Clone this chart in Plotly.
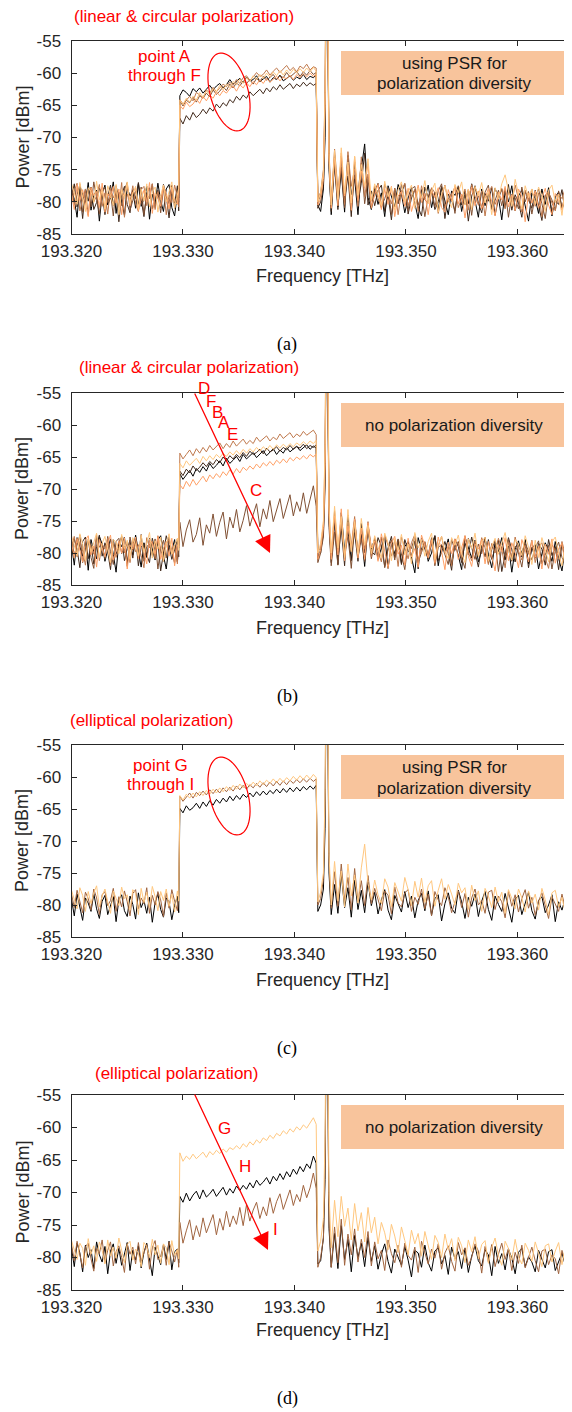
import numpy as np
import plotly.graph_objects as go

# the page body keeps an 8px margin, so the figure is 8px smaller than the window
PAGE_W, PAGE_H = 572, 1412
OFF = 8
W, H = PAGE_W - OFF, PAGE_H - OFF
SANS = "Liberation Sans, Arial, sans-serif"
SERIF = "Liberation Serif, Times New Roman, serif"

y_ticks = [-85, -80, -75, -70, -65, -60, -55]
y_tick_labels = ["-85", "-80", "-75", "-70", "-65", "-60", "-55"]

# sample points, GHz above 193.320 THz
freq_ghz = [
    0.0, 0.25, 0.5, 0.75, 1.0, 1.25, 1.5, 1.75, 2.0, 2.25,
    2.5, 2.75, 3.0, 3.25, 3.5, 3.75, 4.0, 4.25, 4.5, 4.75,
    5.0, 5.25, 5.5, 5.75, 6.0, 6.25, 6.5, 6.75, 7.0, 7.25,
    7.5, 7.75, 8.0, 8.25, 8.5, 8.75, 9.0, 9.25, 9.5, 9.62,
    9.72, 10.0, 10.3, 10.6, 10.9, 11.2, 11.5, 11.8, 12.1, 12.4,
    12.7, 13.0, 13.3, 13.6, 13.9, 14.2, 14.5, 14.8, 15.1, 15.4,
    15.7, 16.0, 16.3, 16.6, 16.9, 17.2, 17.5, 17.8, 18.1, 18.4,
    18.7, 19.0, 19.3, 19.6, 19.9, 20.2, 20.5, 20.8, 21.1, 21.4, 21.7, 21.95,
    22.1, 22.35, 22.6, 22.75, 22.85, 22.95, 23.1, 23.3,
    23.6, 23.9, 24.2, 24.5, 24.8, 25.1, 25.4, 25.7, 26.0, 26.3, 26.6, 26.9,
    27.2, 27.5, 27.8, 28.1, 28.4, 28.7, 29.0, 29.3, 29.6, 29.9, 30.2, 30.5,
    30.8, 31.1, 31.4, 31.7, 32.0, 32.3, 32.6, 32.9, 33.2, 33.5, 33.8, 34.1,
    34.4, 34.7, 35.0, 35.3, 35.6, 35.9, 36.2, 36.5, 36.8, 37.1, 37.4, 37.7,
    38.0, 38.3, 38.6, 38.9, 39.2, 39.5, 39.8, 40.1, 40.4, 40.7, 41.0, 41.3,
    41.6, 41.9, 42.2, 42.5, 42.8, 43.1, 43.4, 43.7, 44.0, 44.3, 44.6, 44.9,
]

# ---- (a) linear & circular, using PSR ----
a_A = [
    -78.1, -79.6, -82.4, -77.5, -78.9, -80.2, -77.0, -81.3, -79.0, -78.2,
    -83.0, -78.7, -77.4, -80.5, -79.3, -76.9, -81.8, -78.5, -80.0, -82.1,
    -77.8, -79.1, -78.3, -81.0, -77.2, -80.7, -79.5, -77.6, -82.7, -78.8,
    -80.3, -77.1, -79.8, -81.5, -78.0, -77.3, -80.9, -82.2, -78.6, -79.4,
    -63.5, -62.6, -63.0, -63.6, -62.4, -62.9, -62.3, -63.1, -62.5, -61.9,
    -62.6, -62.0, -61.6, -62.3, -61.8, -61.0, -61.7, -61.3, -60.8, -61.5,
    -60.6, -61.2, -61.0, -60.4, -61.3, -60.9, -60.5, -61.4, -60.7, -61.0,
    -60.3, -61.2, -60.8, -60.4, -61.1, -60.6, -60.9, -60.2, -61.0, -60.5, -60.7, -60.3,
    -80.5, -81.5, -78.0, -70.0, -40.0, -40.0, -74.0, -82.0,
    -73.5, -80.8, -75.2, -81.6, -72.8, -78.9, -76.4, -82.0, -74.9, -71.0, -79.3, -81.2,
    -77.9, -80.4, -78.6, -82.3, -77.5, -79.1, -80.8, -77.3, -78.8, -81.7, -79.4, -77.8,
    -80.2, -82.6, -78.1, -79.6, -77.4, -80.9, -78.5, -81.3, -77.7, -79.8, -82.0, -78.3,
    -79.0, -77.6, -81.5, -78.9, -80.3, -77.2, -79.7, -82.4, -78.0, -80.6, -78.7, -81.1,
    -77.9, -79.3, -82.8, -78.4, -80.0, -77.5, -81.4, -79.1, -78.2, -80.7, -83.0, -78.6,
    -79.5, -81.8, -78.0, -80.4, -77.8, -82.2, -79.2, -78.5, -81.0, -79.8, -82.5, -78.9,
]
a_B = [
    -79.4, -77.2, -80.8, -78.5, -82.6, -78.0, -79.9, -77.7, -81.2, -80.1,
    -77.9, -78.8, -82.0, -79.2, -77.4, -80.6, -78.3, -83.1, -78.9, -77.6,
    -80.4, -81.7, -78.1, -79.5, -77.0, -80.0, -82.3, -78.6, -77.8, -81.1,
    -79.7, -78.2, -80.9, -77.3, -79.0, -82.5, -78.4, -80.2, -77.5, -81.4,
    -67.0, -67.9, -66.6, -67.3, -66.1, -66.9, -66.4, -65.6, -66.3, -65.4,
    -65.9, -64.8, -65.4, -64.6, -65.1, -64.1, -64.6, -63.6, -64.2, -63.4,
    -63.9, -62.9, -63.5, -63.0, -62.5, -63.2, -62.3, -62.9, -62.1, -62.6,
    -61.8, -62.5, -62.0, -61.6, -62.4, -61.7, -62.1, -61.4, -62.0, -61.5, -61.9, -61.6,
    -81.0, -80.0, -77.5, -68.0, -42.0, -42.0, -75.0, -81.5,
    -74.3, -81.2, -72.9, -79.6, -76.0, -82.3, -73.8, -80.1, -77.1, -72.4, -80.5, -78.3,
    -80.6, -78.2, -77.4, -81.5, -79.0, -82.8, -77.9, -80.3, -78.6, -77.2, -81.9, -79.4,
    -78.1, -80.8, -82.2, -77.7, -79.3, -78.5, -81.2, -80.0, -77.6, -82.6, -78.8, -79.7,
    -81.4, -77.9, -80.5, -78.3, -83.0, -79.1, -77.5, -80.2, -81.7, -78.7, -79.9, -77.8,
    -82.1, -79.5, -78.0, -80.9, -77.3, -81.3, -78.9, -80.1, -82.4, -78.4, -79.6, -81.0,
    -78.2, -80.7, -82.9, -79.0, -78.6, -81.6, -79.8, -80.4, -78.1, -82.0, -79.3, -81.5,
]
a_C = [
    -77.6, -80.5, -78.9, -77.3, -81.6, -79.2, -78.0, -80.8, -76.9, -79.7,
    -81.9, -78.4, -77.8, -80.1, -78.6, -82.2, -77.5, -79.3, -80.6, -78.1,
    -77.0, -81.3, -79.8, -78.3, -80.4, -77.7, -82.0, -78.8, -79.5, -77.2,
    -80.9, -78.5, -81.7, -77.9, -79.1, -80.3, -77.4, -81.0, -78.7, -80.0,
    -64.3, -65.1, -64.2, -64.6, -63.7, -64.5, -63.5, -63.9, -63.1, -63.7,
    -62.6, -63.3, -62.8, -62.1, -62.7, -61.7, -62.3, -61.5, -62.0, -61.2,
    -61.6, -61.0, -61.7, -60.8, -61.3, -60.5, -61.1, -60.6, -60.2, -61.0,
    -60.4, -60.7, -59.9, -60.6, -60.1, -59.7, -60.5, -59.8, -60.3, -59.6, -60.2, -59.9,
    -80.0, -79.0, -76.0, -64.0, -39.0, -39.0, -73.0, -80.5,
    -72.7, -79.8, -74.6, -80.9, -73.1, -81.4, -75.8, -78.6, -74.0, -80.3, -76.5, -81.1,
    -78.4, -77.1, -80.7, -79.5, -77.8, -82.0, -78.6, -80.2, -77.3, -79.9, -81.4, -78.0,
    -77.6, -80.5, -78.9, -82.3, -79.1, -77.9, -80.8, -78.3, -77.2, -81.0, -79.6, -78.7,
    -81.8, -77.5, -79.3, -80.4, -78.1, -82.1, -77.8, -79.0, -80.9, -78.5, -77.4, -81.2,
    -79.8, -78.2, -80.6, -77.9, -82.4, -78.8, -79.4, -81.1, -77.7, -80.0, -78.4, -81.9,
    -79.2, -78.0, -80.3, -82.6, -78.6, -79.7, -81.3, -78.3, -80.8, -79.1, -81.7, -79.5,
]
a_D = [
    -80.2, -78.3, -77.1, -81.4, -79.6, -78.0, -82.1, -77.7, -80.0, -79.1,
    -77.3, -80.7, -78.6, -81.9, -77.9, -79.4, -78.2, -80.9, -77.0, -82.4,
    -78.8, -79.9, -77.5, -80.3, -81.5, -78.1, -77.6, -80.6, -79.0, -77.2,
    -81.2, -78.4, -79.7, -77.8, -82.0, -78.9, -80.1, -77.4, -79.3, -80.8,
    -64.1, -64.8, -64.2, -63.6, -64.3, -63.0, -63.4, -63.9, -62.6, -63.1,
    -62.2, -62.9, -62.3, -61.7, -62.1, -61.4, -61.9, -61.0, -61.6, -60.7,
    -60.4, -61.1, -60.6, -59.9, -60.5, -60.2, -59.5, -60.3, -59.7, -59.2,
    -59.9, -59.4, -58.8, -59.6, -59.1, -59.8, -58.9, -59.3, -58.6, -59.5, -59.0, -59.2,
    -79.5, -78.5, -75.0, -62.0, -38.0, -38.0, -72.0, -80.0,
    -71.8, -78.2, -73.4, -80.4, -72.2, -77.6, -74.9, -80.7, -73.0, -79.2, -75.7, -79.9,
    -77.6, -79.4, -81.0, -77.2, -78.8, -80.3, -77.9, -82.0, -78.4, -77.1, -80.6, -79.0,
    -78.1, -81.5, -77.5, -79.7, -80.2, -77.8, -78.6, -81.8, -79.3, -77.4, -80.0, -78.9,
    -77.7, -80.9, -79.5, -78.0, -81.3, -77.3, -79.1, -80.5, -78.3, -82.2, -78.7, -77.6,
    -80.4, -79.2, -77.9, -81.1, -78.5, -80.1, -77.4, -79.6, -81.6, -78.2, -79.9, -78.0,
    -80.7, -78.6, -82.3, -79.0, -78.4, -80.2, -81.4, -78.8, -79.5, -77.9, -81.0, -79.3,
]
a_E = [
    -78.9, -81.2, -77.4, -79.8, -78.1, -80.5, -82.3, -77.8, -79.0, -78.4,
    -80.9, -77.1, -81.6, -78.7, -79.4, -77.6, -80.2, -78.0, -82.0, -79.1,
    -77.3, -80.6, -78.5, -77.9, -81.4, -79.6, -78.2, -80.0, -77.0, -81.8,
    -78.6, -79.3, -80.7, -77.5, -78.8, -81.1, -77.7, -79.9, -80.4, -78.3,
    -65.0, -65.6, -64.5, -65.2, -64.8, -64.0, -64.7, -63.6, -64.3, -63.4,
    -63.9, -62.9, -63.5, -62.7, -63.1, -62.4, -62.0, -62.8, -61.8, -62.3,
    -61.5, -62.1, -61.3, -61.8, -61.0, -61.6, -60.8, -61.4, -61.0, -60.5,
    -61.2, -60.6, -60.9, -60.3, -61.0, -60.2, -60.7, -60.1, -60.6, -60.0, -60.5, -60.2,
    -80.5, -79.5, -76.5, -65.0, -39.0, -39.0, -73.5, -81.0,
    -73.2, -80.6, -72.4, -79.1, -74.3, -81.3, -73.0, -79.8, -75.2, -77.9, -74.1, -80.9,
    -78.9, -77.3, -81.2, -78.0, -80.4, -77.6, -82.3, -79.1, -78.4, -80.7, -77.9, -81.5,
    -79.6, -77.4, -80.1, -78.7, -82.0, -78.2, -79.3, -77.8, -80.9, -81.6, -78.1, -79.9,
    -77.5, -80.3, -78.8, -82.5, -79.0, -77.7, -80.6, -78.3, -81.1, -79.4, -77.9, -80.0,
    -82.2, -78.5, -79.7, -77.6, -80.8, -78.9, -81.4, -78.0, -79.2, -83.1, -78.6, -80.2,
    -78.3, -81.0, -79.5, -77.9, -80.5, -82.0, -78.7, -79.8, -81.3, -78.4, -80.6, -79.1,
]
a_F = [
    -77.2, -78.6, -80.4, -77.0, -79.3, -81.5, -77.8, -78.4, -80.1, -76.8,
    -79.7, -78.2, -81.1, -77.5, -78.9, -80.6, -77.3, -82.0, -78.1, -79.5,
    -76.9, -80.3, -78.7, -77.6, -81.2, -78.0, -79.9, -77.2, -80.8, -78.5,
    -77.7, -81.6, -79.0, -77.4, -80.0, -78.3, -76.9, -81.0, -78.8, -77.9,
    -64.2, -64.9, -63.9, -64.5, -63.6, -64.2, -63.0, -63.7, -62.8, -63.3,
    -62.4, -62.9, -61.9, -62.6, -61.7, -62.2, -61.3, -61.8, -60.9, -61.6,
    -60.7, -61.3, -60.4, -61.0, -60.2, -60.8, -60.0, -60.6, -59.8, -60.4,
    -59.6, -60.3, -59.5, -60.1, -59.4, -60.0, -59.3, -59.9, -59.2, -59.8, -59.1, -59.7,
    -80.0, -78.5, -75.5, -63.0, -37.0, -37.0, -72.5, -80.5,
    -72.0, -79.6, -71.6, -78.7, -73.8, -80.2, -72.9, -79.0, -74.2, -77.6, -73.3, -79.8,
    -77.2, -78.9, -80.6, -76.8, -79.2, -77.7, -81.3, -78.1, -76.9, -80.0, -78.5, -77.4,
    -81.0, -77.9, -79.4, -76.7, -80.3, -78.3, -77.1, -81.6, -78.7, -77.5, -79.8, -80.9,
    -77.3, -78.6, -76.9, -80.5, -78.0, -81.2, -77.6, -79.1, -77.0, -80.2, -78.4, -82.0,
    -77.8, -79.6, -77.2, -75.8, -78.1, -80.7, -76.5, -78.9, -81.1, -77.5, -79.3, -78.0,
    -80.4, -77.7, -79.0, -81.5, -78.2, -77.4, -80.1, -78.8, -82.1, -77.9, -79.5, -80.6,
]

# ---- (b) linear & circular, no polarization diversity ----
b_A = [
    -78.7, -81.9, -77.6, -79.2, -80.5, -78.1, -82.7, -77.9, -79.8, -80.9,
    -77.4, -78.6, -81.3, -79.5, -77.8, -80.2, -83.0, -78.3, -79.0, -77.5,
    -81.6, -78.9, -80.3, -77.2, -79.7, -82.2, -78.4, -80.7, -77.7, -79.3,
    -81.1, -78.0, -77.3, -80.4, -82.5, -78.8, -79.6, -77.9, -81.4, -78.5,
    -67.6, -68.5, -67.8, -67.1, -68.0, -66.8, -67.4, -66.5, -67.2, -66.0,
    -66.8, -66.3, -65.6, -66.4, -65.2, -66.0, -65.5, -64.9, -65.7, -64.6,
    -65.3, -64.8, -64.3, -65.1, -64.5, -64.0, -64.8, -64.2, -63.7, -64.6,
    -63.9, -64.4, -63.5, -64.2, -63.7, -63.3, -64.0, -63.5, -63.1, -63.8, -63.3, -63.6,
    -81.0, -79.5, -77.0, -68.0, -42.0, -42.0, -74.5, -81.0,
    -75.3, -81.8, -73.7, -79.6, -76.4, -81.2, -74.8, -80.3, -77.0, -82.1, -75.6, -79.4,
    -77.8, -81.0, -79.3, -77.4, -82.4, -78.6, -80.1, -77.9, -81.6, -79.0, -78.2, -80.7,
    -83.1, -77.6, -79.5, -78.4, -81.3, -80.0, -77.3, -82.0, -78.8, -79.7, -77.8, -81.9,
    -78.5, -80.4, -82.6, -77.5, -79.1, -80.8, -78.0, -81.4, -79.6, -77.7, -80.2, -82.3,
    -78.3, -79.8, -77.6, -81.1, -78.9, -83.0, -79.4, -78.1, -80.6, -77.9, -81.7, -79.2,
    -78.7, -82.5, -80.1, -78.4, -79.6, -81.3, -78.2, -80.9, -82.8, -79.0, -78.5, -81.5,
]
b_B = [
    -80.1, -77.8, -79.4, -82.3, -78.2, -77.5, -80.9, -78.7, -81.7, -79.0,
    -77.2, -80.5, -78.4, -79.8, -82.6, -77.9, -80.2, -78.6, -77.4, -81.2,
    -79.3, -78.0, -80.8, -77.6, -82.0, -79.1, -78.5, -80.3, -81.5, -77.7,
    -79.6, -78.3, -82.8, -80.0, -77.3, -78.9, -81.0, -79.5, -77.8, -80.6,
    -67.2, -67.9, -66.9, -67.5, -66.4, -67.1, -66.6, -65.9, -66.5, -65.7,
    -66.2, -65.4, -65.9, -65.0, -65.6, -64.8, -65.3, -64.6, -65.1, -64.3,
    -64.9, -64.1, -64.6, -64.3, -63.8, -64.5, -63.6, -64.2, -63.9, -63.4,
    -64.1, -63.5, -63.9, -63.2, -63.8, -63.4, -63.6, -63.0, -63.7, -63.2, -63.5, -63.1,
    -80.5, -80.0, -76.5, -67.0, -41.0, -41.0, -75.0, -81.5,
    -74.6, -80.9, -76.2, -82.0, -74.1, -79.8, -76.8, -81.3, -75.4, -80.0, -76.3, -79.7,
    -80.3, -77.6, -78.9, -82.1, -79.2, -77.4, -80.7, -78.3, -81.8, -77.9, -79.6, -80.5,
    -78.1, -82.5, -77.7, -79.4, -80.9, -78.6, -77.3, -81.2, -79.9, -78.2, -80.1, -82.7,
    -77.8, -79.0, -81.5, -78.4, -80.3, -77.5, -79.7, -82.2, -78.8, -80.6, -77.9, -81.0,
    -79.3, -78.0, -82.9, -80.2, -77.6, -79.5, -81.4, -78.7, -80.0, -78.3, -82.3, -79.1,
    -80.8, -78.5, -79.4, -81.9, -77.9, -80.4, -79.0, -82.6, -78.6, -81.1, -79.8, -80.2,
]
b_C = [
    -77.9, -80.3, -78.8, -77.2, -81.5, -79.4, -78.1, -80.7, -82.4, -77.6,
    -79.1, -78.5, -80.9, -77.4, -79.8, -81.8, -78.2, -77.7, -80.1, -78.9,
    -82.1, -77.5, -79.6, -78.3, -80.6, -77.1, -81.3, -79.0, -78.6, -80.4,
    -77.8, -82.5, -79.3, -78.0, -80.8, -77.5, -79.9, -81.6, -78.4, -79.2,
    -75.2, -79.0, -76.4, -74.8, -78.3, -77.1, -74.5, -78.8, -75.6, -76.9,
    -73.9, -77.4, -75.2, -73.6, -77.8, -74.4, -76.1, -73.2, -76.7, -74.9,
    -72.6, -75.8, -74.0, -72.3, -75.9, -73.1, -74.7, -71.8, -75.1, -73.4,
    -71.5, -74.6, -72.8, -70.9, -74.2, -72.0, -73.5, -70.6, -73.8, -71.6, -69.5, -72.7,
    -81.5, -80.0, -77.5, -70.0, -44.0, -44.0, -76.0, -82.0,
    -76.7, -81.9, -75.3, -80.2, -77.4, -82.4, -75.9, -80.6, -77.8, -81.3, -76.2, -80.9,
    -78.2, -80.9, -77.5, -82.3, -79.4, -78.0, -81.1, -77.8, -80.2, -82.6, -78.5, -79.3,
    -77.4, -81.5, -79.9, -78.3, -80.6, -77.6, -82.0, -79.1, -78.7, -80.4, -81.8, -77.9,
    -79.6, -78.2, -80.8, -82.4, -77.7, -79.2, -81.0, -78.6, -80.1, -77.5, -81.6, -79.5,
    -78.0, -82.9, -79.0, -80.5, -77.8, -81.3, -78.9, -80.0, -82.2, -78.4, -79.7, -81.1,
    -79.2, -78.1, -81.7, -80.3, -78.8, -82.5, -79.6, -78.3, -80.7, -81.9, -79.0, -80.4,
]
b_D = [
    -79.0, -77.4, -80.6, -78.2, -79.7, -81.9, -77.8, -78.9, -80.2, -77.1,
    -81.2, -78.6, -79.4, -77.7, -82.0, -78.4, -80.7, -79.1, -77.5, -80.0,
    -78.3, -81.5, -77.9, -79.8, -78.7, -80.4, -82.3, -77.6, -79.2, -78.1,
    -80.9, -77.3, -79.5, -81.3, -78.5, -77.9, -80.1, -78.8, -81.7, -77.6,
    -64.4, -65.3, -64.6, -63.9, -64.8, -63.7, -64.4, -63.5, -64.2, -63.2,
    -63.9, -63.4, -62.8, -63.7, -62.9, -63.5, -62.5, -63.3, -62.7, -62.2,
    -63.0, -62.4, -62.9, -61.9, -62.6, -62.1, -61.7, -62.5, -61.9, -62.3,
    -61.4, -62.1, -61.7, -61.2, -62.0, -61.4, -61.8, -61.0, -61.6, -61.2, -60.8, -61.5,
    -80.0, -79.0, -75.5, -64.0, -38.0, -38.0, -73.0, -80.5,
    -73.4, -79.7, -74.9, -80.8, -75.2, -78.9, -74.3, -80.2, -76.3, -79.3, -75.1, -80.6,
    -77.6, -79.8, -81.4, -77.2, -78.7, -80.5, -78.0, -82.1, -77.5, -79.3, -80.9, -78.4,
    -77.1, -81.0, -79.5, -78.2, -80.3, -77.8, -81.7, -78.9, -77.4, -80.1, -79.0, -82.0,
    -77.9, -78.6, -80.7, -77.3, -79.9, -81.2, -78.1, -80.4, -77.6, -79.2, -81.8, -78.5,
    -80.0, -77.7, -79.4, -82.3, -78.3, -80.6, -77.5, -79.7, -81.1, -78.8, -80.2, -78.0,
    -81.5, -79.1, -78.4, -80.8, -82.4, -78.7, -79.6, -81.0, -78.2, -80.3, -79.4, -81.3,
]
b_E = [
    -78.4, -80.8, -77.7, -79.5, -81.4, -78.0, -77.3, -80.3, -78.9, -82.2,
    -77.9, -79.2, -80.6, -78.5, -77.2, -81.1, -79.7, -78.1, -80.0, -77.6,
    -82.5, -78.8, -79.4, -77.5, -80.9, -78.3, -79.9, -81.7, -77.8, -78.6,
    -80.2, -77.4, -81.0, -79.3, -78.2, -80.5, -77.7, -82.0, -78.7, -79.1,
    -69.3, -70.0, -68.8, -69.6, -68.5, -69.4, -68.7, -68.0, -68.9, -67.8,
    -68.4, -67.6, -68.2, -67.3, -67.9, -67.0, -67.7, -66.8, -67.5, -66.6,
    -67.1, -66.4, -66.9, -66.1, -66.7, -65.9, -66.4, -65.7, -66.3, -65.5,
    -66.0, -65.3, -65.9, -65.1, -65.6, -65.0, -65.4, -64.8, -65.3, -64.6, -65.0, -64.5,
    -81.0, -79.5, -76.0, -66.0, -40.0, -40.0, -74.0, -81.0,
    -74.2, -80.3, -73.1, -81.2, -75.8, -79.6, -74.7, -80.8, -76.1, -81.0, -75.3, -79.2,
    -78.1, -81.3, -77.0, -79.6, -82.4, -78.5, -77.4, -80.2, -78.8, -81.9, -77.7, -80.6,
    -79.3, -82.2, -77.2, -78.9, -80.8, -78.0, -81.5, -77.5, -79.7, -82.6, -78.3, -80.1,
    -77.8, -81.0, -79.2, -77.3, -80.5, -82.1, -78.6, -79.4, -77.9, -81.7, -78.2, -80.3,
    -82.8, -78.7, -79.8, -77.6, -81.2, -78.4, -80.0, -82.3, -77.9, -79.5, -81.4, -78.1,
    -80.7, -79.0, -82.5, -78.6, -80.2, -77.8, -81.6, -79.3, -78.5, -82.0, -79.7, -80.9,
]
b_F = [
    -77.3, -79.1, -80.4, -77.0, -78.6, -81.2, -77.8, -79.8, -78.2, -76.9,
    -80.7, -78.5, -77.4, -79.6, -81.5, -77.9, -78.3, -80.1, -77.1, -79.3,
    -78.0, -81.0, -77.6, -78.8, -80.5, -77.2, -79.9, -78.4, -76.8, -80.8,
    -78.1, -79.4, -77.5, -81.3, -78.7, -77.0, -80.2, -78.9, -77.7, -79.6,
    -66.0, -66.7, -65.6, -66.3, -65.8, -65.2, -66.0, -64.9, -65.6, -64.8,
    -65.4, -64.6, -65.1, -64.4, -64.9, -64.2, -64.7, -64.0, -64.6, -63.8,
    -64.4, -63.7, -64.2, -63.5, -64.1, -63.4, -63.9, -63.2, -63.8, -63.1,
    -63.6, -63.0, -63.5, -62.9, -63.4, -62.8, -63.2, -62.6, -63.1, -62.5, -62.9, -62.4,
    -80.0, -78.5, -75.0, -63.0, -37.0, -37.0, -72.5, -80.0,
    -72.7, -79.2, -74.3, -80.7, -73.2, -79.8, -75.1, -80.2, -74.6, -78.8, -75.7, -80.1,
    -77.3, -79.0, -80.8, -76.9, -78.4, -81.2, -77.7, -79.6, -77.1, -80.3, -78.6, -81.7,
    -76.8, -79.2, -77.9, -80.5, -78.2, -76.9, -81.0, -78.7, -77.4, -79.8, -80.9, -77.6,
    -78.8, -77.2, -80.1, -81.5, -77.8, -79.3, -76.9, -80.6, -78.3, -77.5, -81.3, -79.0,
    -77.7, -80.2, -78.5, -76.8, -79.6, -81.1, -77.9, -78.6, -80.4, -77.3, -79.1, -81.8,
    -78.0, -80.7, -77.6, -79.4, -81.4, -78.3, -77.5, -80.0, -82.0, -78.8, -79.7, -80.5,
]

# ---- (c) elliptical, using PSR ----
c_H = [
    -79.1, -81.7, -78.3, -80.2, -82.4, -78.9, -79.7, -81.0, -78.2, -80.6,
    -82.1, -79.4, -78.5, -81.5, -80.0, -78.7, -82.6, -79.2, -78.4, -80.9,
    -81.8, -78.6, -79.9, -82.2, -78.1, -80.4, -79.3, -81.3, -78.8, -82.7,
    -79.6, -78.3, -80.7, -81.9, -78.9, -79.5, -82.3, -80.1, -78.6, -81.2,
    -64.9, -65.6, -64.5, -65.2, -64.8, -64.1, -64.9, -63.9, -64.6, -63.7,
    -64.4, -63.5, -64.1, -63.3, -63.9, -63.0, -63.7, -62.9, -63.5, -62.7,
    -63.2, -62.5, -63.1, -62.3, -62.9, -62.2, -62.8, -62.1, -62.6, -61.9,
    -62.5, -61.8, -62.4, -61.7, -62.3, -61.6, -62.2, -61.5, -62.0, -61.4, -61.9, -61.3,
    -81.0, -80.0, -77.5, -68.0, -42.0, -42.0, -75.0, -81.5,
    -76.8, -81.3, -75.2, -80.4, -77.3, -81.9, -76.1, -80.7, -77.7, -81.2, -76.4, -80.1,
    -78.0, -81.4, -79.2, -77.6, -80.8, -82.3, -78.5, -79.7, -81.1, -77.9, -80.4, -78.6,
    -82.0, -79.3, -78.2, -80.9, -77.8, -81.6, -79.0, -78.4, -82.5, -79.8, -78.1, -80.5,
    -81.3, -77.7, -79.5, -82.1, -78.8, -80.2, -78.3, -81.8, -79.4, -77.9, -80.7, -82.4,
    -78.6, -79.9, -81.0, -78.2, -80.3, -82.7, -79.1, -78.5, -81.5, -79.6, -78.0, -80.9,
    -82.2, -79.3, -78.7, -81.2, -80.0, -78.4, -82.6, -79.5, -80.8, -78.9, -81.7, -79.7,
]
c_I = [
    -78.3, -80.4, -77.7, -79.6, -81.2, -78.0, -79.0, -80.8, -77.5, -78.9,
    -81.5, -78.4, -77.9, -80.1, -79.3, -77.4, -81.0, -78.7, -80.3, -77.8,
    -79.5, -81.7, -78.2, -77.6, -80.6, -78.9, -79.8, -77.3, -81.3, -78.5,
    -80.0, -77.9, -79.2, -81.8, -78.1, -80.5, -77.6, -79.4, -80.9, -78.3,
    -63.0, -63.8, -63.1, -62.5, -63.3, -62.4, -62.9, -62.2, -62.8, -62.0,
    -62.6, -61.9, -62.5, -61.7, -62.3, -61.6, -62.2, -61.4, -62.0, -61.3,
    -61.9, -61.2, -61.7, -61.0, -61.6, -60.9, -61.5, -60.8, -61.4, -60.7,
    -61.3, -60.6, -61.2, -60.5, -61.0, -60.4, -60.9, -60.3, -60.8, -60.2, -60.7, -60.3,
    -80.0, -79.0, -76.0, -64.0, -39.0, -39.0, -73.5, -80.5,
    -74.8, -80.2, -73.6, -79.3, -75.7, -80.8, -74.3, -79.6, -76.2, -80.1, -75.4, -79.8,
    -77.4, -79.1, -80.9, -77.8, -78.5, -81.4, -77.2, -79.7, -80.3, -78.1, -77.6, -81.0,
    -78.8, -79.9, -77.5, -80.6, -78.3, -81.7, -77.9, -79.2, -80.1, -77.3, -78.7, -81.2,
    -79.6, -77.8, -80.4, -78.2, -81.9, -78.9, -77.5, -80.0, -79.3, -81.3, -78.0, -77.7,
    -80.7, -78.6, -79.5, -82.0, -77.9, -80.2, -78.4, -81.1, -79.0, -77.6, -80.5, -78.8,
    -81.6, -79.4, -78.1, -80.3, -82.1, -78.7, -79.8, -81.0, -78.3, -80.6, -79.1, -81.4,
]
c_G = [
    -77.7, -79.2, -80.6, -77.3, -78.5, -81.0, -77.9, -79.8, -78.1, -77.0,
    -80.3, -78.6, -77.5, -79.5, -81.3, -77.8, -78.9, -80.1, -77.2, -79.0,
    -78.4, -80.8, -77.6, -78.2, -81.5, -77.4, -79.6, -78.0, -80.4, -77.1,
    -78.7, -80.9, -77.9, -79.3, -77.5, -80.2, -78.3, -81.1, -77.8, -79.4,
    -62.9, -63.6, -62.7, -63.3, -62.5, -63.1, -62.3, -62.9, -62.1, -62.7,
    -61.9, -62.5, -61.7, -62.3, -61.5, -62.1, -61.3, -61.9, -61.1, -61.7,
    -61.0, -61.5, -60.8, -61.4, -60.6, -61.2, -60.5, -61.0, -60.3, -60.9,
    -60.2, -60.8, -60.1, -60.6, -59.9, -60.5, -59.8, -60.4, -59.7, -60.3, -59.6, -60.1,
    -79.5, -78.0, -75.0, -62.0, -37.0, -37.0, -72.0, -80.0,
    -73.2, -79.4, -74.7, -80.3, -73.6, -78.6, -75.3, -79.7, -74.2, -70.5, -76.6, -79.2,
    -76.1, -78.4, -79.8, -75.9, -77.2, -80.3, -76.5, -78.0, -79.4, -75.7, -77.6, -80.1,
    -76.3, -78.8, -75.8, -79.6, -77.0, -76.2, -80.2, -77.7, -75.9, -79.1, -76.8, -78.3,
    -80.0, -76.6, -78.1, -77.3, -80.7, -76.9, -79.3, -77.8, -81.0, -77.4, -78.6, -80.4,
    -77.2, -79.5, -78.0, -81.3, -77.6, -79.0, -80.6, -77.5, -78.9, -81.1, -77.8, -79.7,
    -78.3, -80.8, -77.4, -79.2, -81.5, -78.1, -77.7, -80.3, -78.8, -81.2, -78.0, -79.9,
]

# ---- (d) elliptical, no polarization diversity ----
d_H = [
    -78.5, -81.4, -77.8, -79.3, -82.2, -78.1, -80.0, -78.8, -81.7, -77.6,
    -79.6, -80.7, -78.3, -82.5, -79.0, -77.9, -80.9, -78.6, -81.2, -79.4,
    -77.7, -82.0, -78.9, -80.4, -78.2, -81.6, -79.2, -77.8, -80.6, -82.8,
    -78.4, -79.7, -81.1, -78.0, -80.3, -77.5, -81.9, -79.1, -78.7, -80.8,
    -70.6, -71.5, -70.1, -71.3, -70.4, -69.8, -71.0, -69.6, -70.7, -70.2,
    -69.5, -70.6, -69.9, -69.2, -70.4, -69.4, -70.1, -69.0, -69.7, -68.9,
    -69.5, -68.5, -69.3, -68.1, -68.9, -68.4, -67.7, -68.7, -67.5, -68.2,
    -67.1, -68.0, -66.8, -67.6, -66.4, -67.2, -66.0, -66.8, -65.6, -66.3, -64.4, -65.5,
    -81.0, -80.5, -77.0, -68.0, -42.0, -42.0, -75.5, -81.5,
    -76.3, -81.7, -75.1, -80.3, -77.2, -82.2, -76.6, -80.0, -77.8, -81.4, -76.9, -80.6,
    -78.2, -81.8, -79.5, -77.9, -80.6, -82.4, -78.7, -79.9, -81.2, -78.3, -80.4, -83.0,
    -78.9, -79.3, -81.5, -78.1, -80.8, -82.1, -79.0, -78.5, -81.0, -79.7, -82.6, -78.4,
    -80.2, -79.1, -81.7, -78.6, -82.3, -79.8, -78.2, -80.5, -81.3, -78.8, -79.6, -82.8,
    -78.3, -80.9, -79.4, -81.9, -78.7, -80.1, -82.5, -79.2, -78.6, -81.4, -79.9, -80.7,
    -82.2, -78.9, -80.3, -81.6, -79.1, -78.8, -82.0, -80.5, -79.3, -81.2, -83.1, -79.6,
]
d_I = [
    -78.0, -80.5, -77.5, -79.7, -81.6, -78.3, -77.8, -80.2, -82.1, -78.6,
    -79.4, -77.3, -80.8, -78.9, -77.6, -81.3, -79.1, -78.2, -80.0, -82.3,
    -77.9, -79.5, -78.4, -81.0, -77.7, -80.6, -79.2, -78.0, -81.8, -78.5,
    -77.4, -80.3, -79.8, -78.1, -81.2, -77.6, -79.0, -80.7, -78.7, -81.5,
    -74.6, -77.8, -75.9, -74.2, -77.3, -75.1, -76.8, -73.9, -76.2, -74.7,
    -73.4, -76.5, -74.0, -75.8, -72.9, -75.3, -73.6, -74.9, -72.3, -75.1,
    -71.9, -74.4, -72.7, -71.5, -74.0, -72.2, -73.6, -70.8, -73.2, -71.4,
    -70.2, -72.6, -70.9, -69.6, -72.0, -70.3, -71.4, -68.9, -70.8, -69.3, -67.0, -69.4,
    -81.5, -80.0, -77.0, -66.0, -41.0, -41.0, -74.5, -81.5,
    -75.3, -80.8, -74.1, -81.2, -76.4, -79.6, -75.6, -80.7, -77.2, -80.0, -76.0, -81.3,
    -77.6, -80.2, -78.9, -82.0, -77.3, -79.4, -80.8, -78.1, -81.5, -77.8, -79.7, -80.4,
    -78.4, -82.3, -77.5, -79.1, -81.0, -78.7, -80.1, -77.9, -81.8, -79.3, -78.2, -80.6,
    -82.1, -77.7, -79.6, -78.5, -81.2, -80.0, -77.9, -79.0, -82.4, -78.3, -80.7, -78.0,
    -81.4, -79.5, -77.8, -80.3, -78.6, -82.0, -79.2, -80.9, -78.1, -81.6, -79.8, -78.4,
    -80.5, -82.2, -79.0, -78.7, -81.1, -79.6, -80.2, -82.5, -78.9, -80.8, -79.3, -81.0,
]
d_G = [
    -77.4, -79.0, -80.3, -77.8, -78.6, -81.2, -77.1, -79.5, -78.2, -80.6,
    -77.6, -78.9, -81.0, -77.3, -79.8, -78.4, -80.1, -77.0, -79.2, -80.8,
    -78.0, -77.5, -80.4, -78.7, -79.3, -81.4, -77.7, -78.3, -80.0, -77.2,
    -79.6, -78.1, -80.9, -77.9, -78.5, -81.1, -77.4, -79.7, -78.8, -80.2,
    -63.9, -65.2, -64.4, -64.9, -64.1, -64.8, -64.3, -63.8, -64.6, -63.7,
    -64.2, -63.5, -64.0, -63.3, -63.8, -63.1, -63.4, -62.8, -63.3, -62.5,
    -63.0, -62.2, -62.7, -61.9, -62.4, -61.6, -62.0, -61.2, -61.7, -60.9,
    -61.3, -60.5, -61.0, -60.2, -60.7, -59.9, -60.4, -59.6, -60.1, -59.3, -58.5, -59.5,
    -79.0, -77.5, -74.0, -61.0, -37.0, -37.0, -70.0, -78.5,
    -71.2, -76.8, -70.6, -75.2, -72.4, -77.3, -71.7, -75.9, -73.1, -77.6, -72.3, -76.2,
    -73.8, -77.9, -74.6, -76.2, -78.8, -74.9, -76.7, -79.2, -75.3, -77.4, -79.6, -75.8,
    -77.9, -76.3, -79.8, -76.0, -78.4, -80.3, -76.6, -77.7, -80.0, -76.4, -78.8, -77.1,
    -80.5, -76.9, -78.2, -80.8, -77.3, -79.1, -76.8, -80.2, -78.0, -77.4, -80.9, -78.5,
    -77.0, -79.7, -81.2, -77.5, -78.6, -80.4, -77.2, -79.9, -81.0, -77.8, -78.9, -80.6,
    -77.6, -79.3, -81.4, -78.2, -77.9, -80.7, -79.0, -77.7, -81.1, -78.4, -80.2, -79.5,
]

trace_colors = {
    "A": "#000000", "B": "#40281a", "C": "#805033",
    "D": "#bf784c", "E": "#ffa066", "F": "#ffc77f",
    "H": "#000000", "I": "#a0643f", "G": "#ffc77f",
}
panels = [
    [("A", a_A), ("B", a_B), ("C", a_C), ("D", a_D), ("E", a_E), ("F", a_F)],
    [("A", b_A), ("B", b_B), ("C", b_C), ("D", b_D), ("E", b_E), ("F", b_F)],
    [("H", c_H), ("I", c_I), ("G", c_G)],
    [("H", d_H), ("I", d_I), ("G", d_G)],
]

# page-pixel layout of the four panels
tops = [41, 393, 745, 1095]
bots = [234, 585, 937, 1290]
x_left = 71.5

freq_thz = 193.320 + np.array(freq_ghz) / 1000.0


def px(x):
    return (x - OFF) / W


def py(y):
    return 1 - (y - OFF) / H


fig = go.Figure()
for i, traces in enumerate(panels):
    sfx = "" if i == 0 else str(i + 1)
    for name, vals in traces:
        assert len(vals) == len(freq_ghz), (i, name, len(vals))
        fig.add_trace(go.Scatter(
            x=freq_thz, y=vals, mode="lines", name=name,
            line=dict(color=trace_colors[name], width=1),
            xaxis="x" + sfx, yaxis="y" + sfx, showlegend=False,
        ))

tick_font = dict(family=SANS, size=17, color="#262626")
for i in range(4):
    sfx = "" if i == 0 else str(i + 1)
    fig.update_layout(**{
        "xaxis" + sfx: dict(
            domain=[px(x_left), 1.0], range=[193.320, 193.3649],
            anchor="y" + sfx, tick0=193.32, dtick=0.01, tickformat=".3f",
            ticks="inside", ticklen=5, tickcolor="#262626",
            showline=True, linecolor="#262626", linewidth=1, mirror="ticks",
            showgrid=False, zeroline=False, tickfont=tick_font,
            automargin=False, ticklabelstandoff=2,
        ),
        "yaxis" + sfx: dict(
            domain=[py(bots[i]), py(tops[i])], range=[-85, -55],
            anchor="x" + sfx, tickmode="array",
            tickvals=y_ticks, ticktext=y_tick_labels,
            ticks="inside", ticklen=5, tickcolor="#262626",
            showline=True, linecolor="#262626", linewidth=1,
            showgrid=False, zeroline=False, tickfont=tick_font,
            automargin=False, ticklabelstandoff=6,
        ),
    })

ann = []
shapes = []


def note(text, x, y, size=17, color="red", family=SANS):
    ann.append(dict(text=text, x=px(x), y=py(y), xref="paper", yref="paper",
                    showarrow=False, xanchor="center", yanchor="middle",
                    font=dict(size=size, color=color, family=family)))


def ellipse(cx, cy, a, b, tilt_deg):
    th = np.radians(tilt_deg)
    t = np.linspace(0, 2 * np.pi, 60)
    xs = cx + a * np.sin(t) * np.sin(th) + b * np.cos(t) * np.cos(th)
    ys = cy + a * np.sin(t) * np.cos(th) - b * np.cos(t) * np.sin(th)
    path = "M " + " L ".join(f"{px(x):.5f},{py(y):.5f}" for x, y in zip(xs, ys)) + " Z"
    shapes.append(dict(type="path", path=path, xref="paper", yref="paper",
                       line=dict(color="red", width=1.2)))


def box(top, lines):
    shapes.append(dict(type="rect", xref="paper", yref="paper",
                       x0=px(341), x1=px(567), y0=py(top + 10), y1=py(top + 54),
                       fillcolor="#f8c49c", line=dict(width=0), layer="above"))
    if len(lines) == 1:
        note(lines[0], 454, top + 32, color="#1a1a1a")
    else:
        note(lines[0], 454, top + 22, color="#1a1a1a")
        note(lines[1], 454, top + 43, color="#1a1a1a")


def arrow(x0, y0, x1, y1):
    ann.append(dict(x=px(x1), y=py(y1), xref="paper", yref="paper",
                    ax=x0 - x1, ay=y0 - y1, axref="pixel", ayref="pixel",
                    text="", showarrow=True, arrowhead=2, arrowsize=2.6,
                    arrowwidth=1.3, arrowcolor="red"))


captions = ["(a)", "(b)", "(c)", "(d)"]
for i, T in enumerate(tops):
    note("Frequency [THz]", 322, T + 235, size=18, color="#262626")
    ann.append(dict(text="Power [dBm]", x=px(22), y=py((tops[i] + bots[i]) / 2),
                    xref="paper", yref="paper", showarrow=False, textangle=-90,
                    xanchor="center", yanchor="middle",
                    font=dict(size=18, color="#262626", family=SANS)))
    note(captions[i], 287, T + 303, size=18, color="#000000", family=SERIF)

# (a)
note("(linear & circular polarization)", 184, 17)
note("point A", 164, 57)
note("through F", 164, 76)
ellipse(229, 92, 40, 19, 15)
box(tops[0], ["using PSR for", "polarization diversity"])

# (b)
note("(linear & circular polarization)", 189, 368)
box(tops[1], ["no polarization diversity"])
arrow(194, 392, 270, 553)
for lab, x, y in [("D", 204, 388), ("F", 211, 401), ("B", 217, 412),
                  ("A", 224, 422), ("E", 232, 434), ("C", 256, 490)]:
    note(lab, x, y)

# (c)
note("(elliptical polarization)", 151, 720)
note("point G", 160, 765)
note("through I", 160, 784)
ellipse(229, 796, 40, 19, 15)
box(tops[2], ["using PSR for", "polarization diversity"])

# (d)
note("(elliptical polarization)", 176, 1073)
box(tops[3], ["no polarization diversity"])
arrow(194, 1093, 268, 1250)
for lab, x, y in [("G", 224, 1128), ("H", 245, 1166), ("I", 275, 1229)]:
    note(lab, x, y)

fig.update_layout(
    width=W, height=H, margin=dict(l=0, r=0, t=0, b=0),
    paper_bgcolor="white", plot_bgcolor="white",
    annotations=ann, shapes=shapes, showlegend=False,
)
fig.write_html("out.html")
